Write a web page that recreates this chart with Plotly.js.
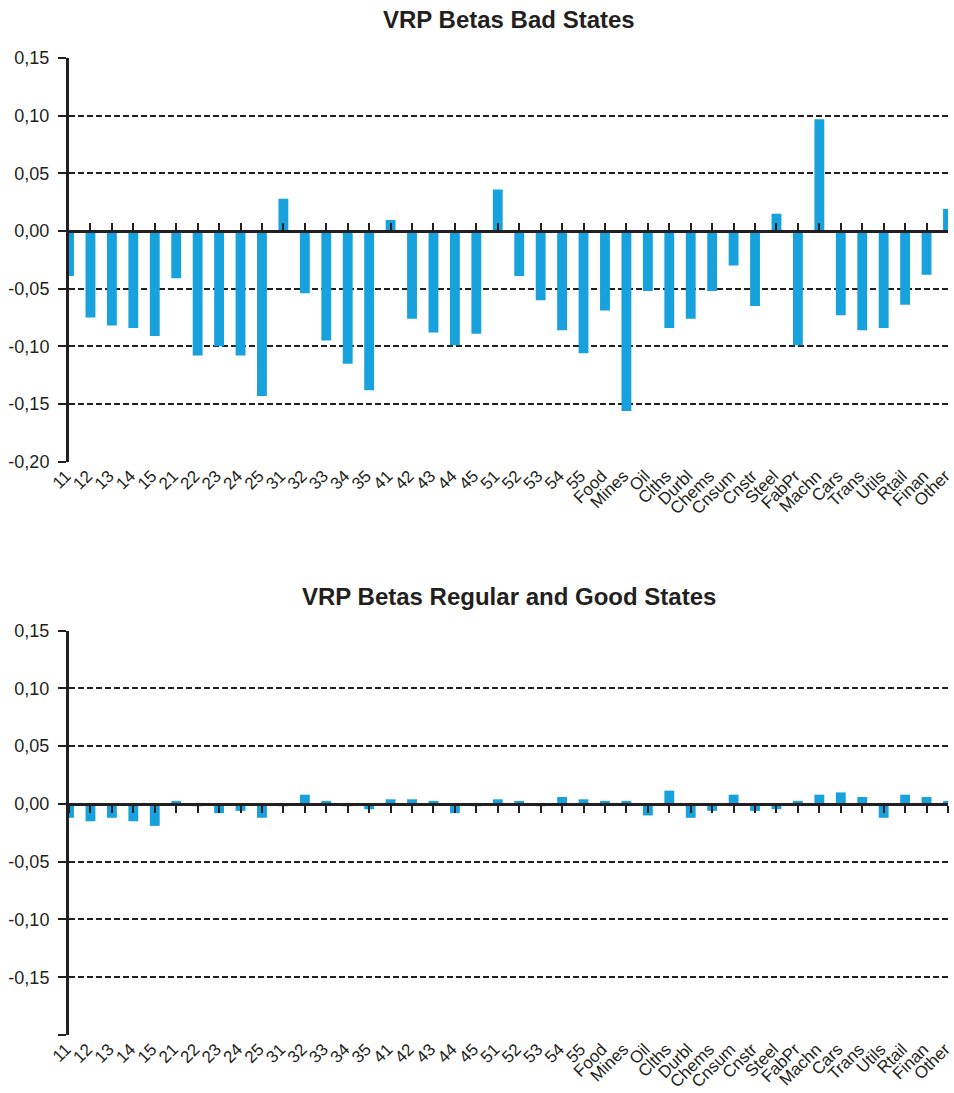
<!DOCTYPE html>
<html>
<head>
<meta charset="utf-8">
<script src="https://cdn.plot.ly/plotly-3.0.1.min.js"></script>
<style>html,body{margin:0;padding:0;background:#fff;}#chart{width:954px;height:1093px;}</style>
</head>
<body>
<div id="chart"></div>
<script>
const categories = ["11","12","13","14","15","21","22","23","24","25","31","32","33","34","35","41","42","43","44","45","51","52","53","54","55","Food","Mines","Oil","Clths","Durbl","Chems","Cnsum","Cnstr","Steel","FabPr","Machn","Cars","Trans","Utils","Rtail","Finan","Other"];
const badStates = [-0.039,-0.075,-0.082,-0.084,-0.091,-0.041,-0.108,-0.100,-0.108,-0.143,0.028,-0.054,-0.095,-0.115,-0.138,0.0095,-0.076,-0.088,-0.099,-0.089,0.036,-0.039,-0.060,-0.086,-0.106,-0.069,-0.156,-0.052,-0.084,-0.076,-0.052,-0.030,-0.065,0.015,-0.099,0.097,-0.073,-0.086,-0.084,-0.064,-0.038,0.019];
const goodStates = [-0.012,-0.015,-0.012,-0.015,-0.019,0.0026,-0.002,-0.008,-0.006,-0.012,-0.002,0.008,0.0026,-0.002,-0.0046,0.004,0.004,0.0026,-0.008,-0.002,0.004,0.0026,-0.002,0.006,0.004,0.0026,0.0026,-0.010,0.0115,-0.012,-0.006,0.008,-0.006,-0.0046,0.0026,0.008,0.010,0.006,-0.012,0.008,0.006,0.0026];
const yTickVals = [0.15,0.10,0.05,0.00,-0.05,-0.10,-0.15,-0.20];
const yTickTextTop = ["0,15","0,10","0,05","0,00","-0,05","-0,10","-0,15","-0,20"];
const yTickTextBottom = ["0,15","0,10","0,05","0,00","-0,05","-0,10","-0,15",""];
const titles = ["VRP Betas Bad States","VRP Betas Regular and Good States"];

const idx = categories.map((c,i)=>i);
const ink = "#231f20";
const barColor = "#17a2dd";
const font = "Liberation Sans, Arial, Helvetica, sans-serif";
const yRange = [-0.2, 0.15];
const xRange = [-0.001, 41.001];
const topDomain = [0.5868, 1];
const botDomain = [0, 0.4139];
const zeroFrac = (d)=> d[0] + (0 - yRange[0])/(yRange[1]-yRange[0])*(d[1]-d[0]);

const bar = (y, xa, ya)=>({type:"bar", x: idx, y: y, xaxis: xa, yaxis: ya,
  width: 0.46, marker:{color: barColor, line:{width:0}}, hoverinfo:"x+y", showlegend:false});
// invisible carrier so the tick axis at zero is drawn
const carrier = (y, xa, ya)=>({type:"scatter", mode:"markers", x: idx, y: y, xaxis: xa, yaxis: ya,
  marker:{opacity:0, size:1}, hoverinfo:"skip", showlegend:false});

const labelAxis = (anchor)=>({range:xRange, anchor: anchor, tickmode:"array", tickvals: idx, ticktext: categories,
  tickangle:-45, ticks:"", showline:false, showgrid:false, zeroline:false, ticklabeloverflow:"allow",
  ticklabelstandoff:0, ticklabelshift:-3,
  tickfont:{family:font, size:17, color:ink}});
const zeroAxis = (over, pos, ticks)=>({range:xRange, overlaying: over, anchor:"free", position: pos,
  tickmode:"array", tickvals: idx, showticklabels:false, ticks: ticks, ticklen:7, tickwidth:2, tickcolor: ink,
  showline:true, linewidth:3, linecolor: ink, showgrid:false, zeroline:false, layer:"above traces"});
const yAxis = (dom, text, anchor)=>({domain: dom, range: yRange, anchor: anchor, tickmode:"array", tickvals: yTickVals, ticktext: text,
  ticks:"outside", ticklen:8, tickwidth:2, tickcolor: ink, showline:true, linewidth:3, linecolor: ink,
  showgrid:true, gridcolor: ink, gridwidth:2, griddash:"6px,3px", zeroline:false, ticklabelstandoff:5,
  tickfont:{family:font, size:18, color:ink}});

const data = [bar(badStates,"x","y"), carrier(badStates,"x2","y"),
              bar(goodStates,"x3","y2"), carrier(goodStates,"x4","y2")];

const layout = {
  width:954, height:1093,
  margin:{l:69, r:6, t:58, b:58},
  paper_bgcolor:"#fff", plot_bgcolor:"#fff",
  font:{family:font, color:ink},
  xaxis: labelAxis("y"),
  xaxis2: zeroAxis("x", zeroFrac(topDomain), "inside"),
  xaxis3: labelAxis("y2"),
  xaxis4: zeroAxis("x3", zeroFrac(botDomain), "outside"),
  yaxis: yAxis(topDomain, yTickTextTop, "x"),
  yaxis2: yAxis(botDomain, yTickTextBottom, "x3"),
  annotations:[
    {text:"<b>"+titles[0]+"</b>", xref:"paper", yref:"paper", x:0.5, y:(1035-19)/977, xanchor:"center", yanchor:"middle", showarrow:false, font:{family:font, size:24, color:ink}},
    {text:"<b>"+titles[1]+"</b>", xref:"paper", yref:"paper", x:0.5, y:(1035-596)/977, xanchor:"center", yanchor:"middle", showarrow:false, font:{family:font, size:24, color:ink}}
  ]
};
Plotly.newPlot("chart", data, layout, {displayModeBar:false, staticPlot:true});
</script>
</body>
</html>
